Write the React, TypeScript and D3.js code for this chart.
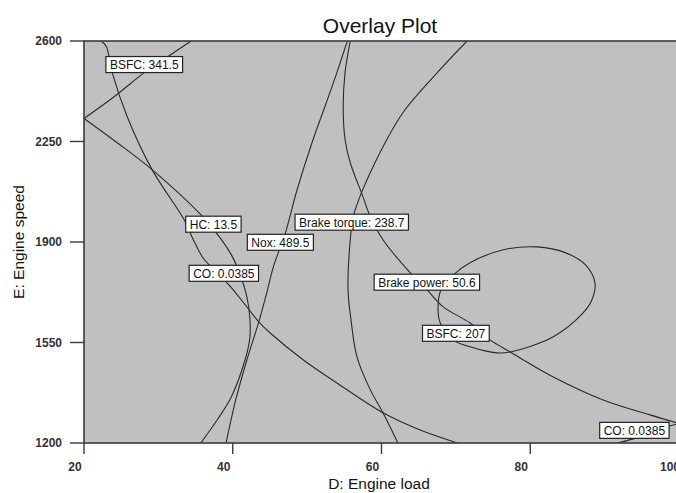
import { useEffect, useRef } from "react";
import * as d3 from "d3";

// axis ticks
const loadTicks = [20, 40, 60, 80, 100];
const speedTicks = [1200, 1550, 1900, 2250, 2600];

// contour traces, [engine load, engine speed]
const bsfcHigh = [
  [34.4, 2600], [31.7, 2553], [28.1, 2490], [24.4, 2413], [20, 2330],
];
const hcLine = [
  [20, 2330], [24.6, 2243], [29.15, 2152], [35.7, 1995], [38.0, 1925],
  [39.8, 1856], [41.1, 1779], [41.9, 1709], [42.3, 1636], [42.3, 1566],
  [41.65, 1489], [39.8, 1360], [37.9, 1280], [35.7, 1200],
];
const coLine = [
  [22.3, 2600], [23.0, 2581], [23.8, 2490], [25.8, 2337], [29.15, 2152],
  [33.45, 1978], [34.7, 1908], [36.0, 1845], [37.75, 1796], [39.6, 1747],
  [42.2, 1664], [43.5, 1622], [45.0, 1584], [49.5, 1489], [54.0, 1409],
  [60.2, 1305], [65.2, 1245], [70.2, 1200],
];
const coCorner = [
  [91.7, 1200], [94.2, 1217], [98.7, 1259], [100, 1268],
];
const noxLine = [
  [55.4, 2600], [54.0, 2490], [52.4, 2372], [50.8, 2257], [48.65, 2082],
  [47.0, 1925], [45.55, 1821], [44.5, 1716], [43.5, 1622], [41.9, 1489],
  [40.4, 1350], [39.1, 1200],
];
const torqueLine = [
  [71.5, 2600], [67.5, 2490], [62.9, 2351], [60.2, 2232], [58.5, 2142],
  [57.1, 2058], [56.2, 1988], [55.8, 1908], [55.5, 1734], [55.9, 1629],
  [56.7, 1500], [58.5, 1385], [60.2, 1305], [62.2, 1200],
];
const bsfcLow = [
  [55.8, 2600], [55.1, 2490], [54.85, 2372], [55.1, 2257], [55.8, 2176],
  [57.4, 2065], [58.5, 1988], [60.2, 1908], [63.85, 1793], [66.1, 1734],
  [68.3, 1674], [71.9, 1618], [74.6, 1559], [77.3, 1517], [83.1, 1430],
  [89.8, 1350], [96.1, 1298], [100, 1268],
];
const powerLoop = [
  [67.6, 1664], [68.0, 1734], [69.5, 1782], [71.9, 1828], [76.4, 1873],
  [80.9, 1883], [84.7, 1863], [87.4, 1821], [88.7, 1758], [88.3, 1699],
  [87.1, 1653], [83.1, 1570], [77.3, 1517], [75.5, 1514], [71.9, 1535],
  [69.6, 1559], [67.9, 1618],
];

const openLines = [bsfcHigh, hcLine, coLine, coCorner, noxLine, torqueLine, bsfcLow];

const labels = [
  { text: "BSFC: 341.5", load: 28.1, speed: 2518 },
  { text: "HC: 13.5", load: 37.4, speed: 1962 },
  { text: "Nox: 489.5", load: 46.4, speed: 1899 },
  { text: "Brake torque: 238.7", load: 56.0, speed: 1969 },
  { text: "CO: 0.0385", load: 38.8, speed: 1791 },
  { text: "Brake power: 50.6", load: 66.1, speed: 1760 },
  { text: "BSFC: 207", load: 70.0, speed: 1582 },
  { text: "CO: 0.0385", load: 94.0, speed: 1244 },
];

const W = 676;
const H = 493;
const font = "'Liberation Sans', Arial, sans-serif";

const OverlayPlot = () => {
  const svgRef = useRef<SVGSVGElement | null>(null);

  useEffect(() => {
    const svg = d3.select(svgRef.current);
    svg.selectAll("*").remove();

    const x = d3.scaleLinear().domain([20, 100]).range([84, 679]);
    const y = d3.scaleLinear().domain([1200, 2600]).range([443, 41]);

    svg
      .append("defs")
      .append("clipPath")
      .attr("id", "plot-clip")
      .append("rect")
      .attr("x", x(20))
      .attr("y", y(2600))
      .attr("width", x(100) - x(20))
      .attr("height", y(1200) - y(2600));

    // background
    svg
      .append("rect")
      .attr("x", x(20))
      .attr("y", y(2600))
      .attr("width", x(100) - x(20))
      .attr("height", y(1200) - y(2600))
      .attr("fill", "#c0c0c0");

    const line = d3
      .line<number[]>()
      .x((d) => x(d[0]))
      .y((d) => y(d[1]))
      .curve(d3.curveCatmullRom);

    const closed = d3
      .line<number[]>()
      .x((d) => x(d[0]))
      .y((d) => y(d[1]))
      .curve(d3.curveCatmullRomClosed);

    const g = svg.append("g").attr("clip-path", "url(#plot-clip)");
    g.selectAll("path.open")
      .data(openLines)
      .join("path")
      .attr("class", "open")
      .attr("d", (d) => line(d))
      .attr("fill", "none")
      .attr("stroke", "#2a2a2a")
      .attr("stroke-width", 1.1);
    g.append("path")
      .attr("d", closed(powerLoop))
      .attr("fill", "none")
      .attr("stroke", "#2a2a2a")
      .attr("stroke-width", 1.1);

    // labels with white boxes
    const lab = g
      .selectAll("g.lab")
      .data(labels)
      .join("g")
      .attr("class", "lab")
      .attr("transform", (d) => `translate(${x(d.load)},${y(d.speed)})`);
    lab.each(function (d) {
      const node = d3.select(this);
      const rect = node.append("rect");
      const t = node
        .append("text")
        .attr("text-anchor", "middle")
        .attr("dy", "0.36em")
        .attr("font-family", font)
        .attr("font-size", 12)
        .attr("fill", "#111")
        .text(d.text);
      const w = (t.node() as SVGTextElement).getComputedTextLength();
      rect
        .attr("x", -w / 2 - 4)
        .attr("y", -8)
        .attr("width", w + 8)
        .attr("height", 16)
        .attr("fill", "#fff")
        .attr("stroke", "#222")
        .attr("stroke-width", 1.2);
    });

    // frame
    svg
      .append("rect")
      .attr("x", x(20))
      .attr("y", y(2600))
      .attr("width", x(100) - x(20))
      .attr("height", y(1200) - y(2600))
      .attr("fill", "none")
      .attr("stroke", "#3a3a3a")
      .attr("stroke-width", 1.6);

    // y ticks
    const yt = svg.append("g");
    yt.selectAll("line")
      .data(speedTicks)
      .join("line")
      .attr("x1", x(20) - 14)
      .attr("x2", x(20))
      .attr("y1", (d) => y(d))
      .attr("y2", (d) => y(d))
      .attr("stroke", "#3a3a3a")
      .attr("stroke-width", 1.4);
    yt.selectAll("text")
      .data(speedTicks)
      .join("text")
      .attr("x", x(20) - 22)
      .attr("y", (d) => y(d))
      .attr("dy", "0.35em")
      .attr("text-anchor", "end")
      .attr("font-family", font)
      .attr("font-size", 12)
      .attr("font-weight", "bold")
      .attr("fill", "#333")
      .text((d) => d);

    // x ticks
    const xt = svg.append("g");
    xt.selectAll("line")
      .data(loadTicks)
      .join("line")
      .attr("x1", (d) => x(d))
      .attr("x2", (d) => x(d))
      .attr("y1", y(1200))
      .attr("y2", y(1200) + 11)
      .attr("stroke", "#3a3a3a")
      .attr("stroke-width", 1.4);
    xt.selectAll("text")
      .data(loadTicks)
      .join("text")
      .attr("x", (d) => x(d) - 9)
      .attr("y", y(1200) + 28)
      .attr("text-anchor", "middle")
      .attr("font-family", font)
      .attr("font-size", 12)
      .attr("font-weight", "bold")
      .attr("fill", "#333")
      .text((d) => d);

    svg
      .append("text")
      .attr("x", 380)
      .attr("y", 33)
      .attr("text-anchor", "middle")
      .attr("font-family", font)
      .attr("font-size", 21)
      .attr("fill", "#111")
      .text("Overlay Plot");

    svg
      .append("text")
      .attr("x", 379)
      .attr("y", 489)
      .attr("text-anchor", "middle")
      .attr("font-family", font)
      .attr("font-size", 15.5)
      .attr("fill", "#111")
      .text("D: Engine load");

    svg
      .append("text")
      .attr("transform", `translate(24,${(y(1200) + y(2600)) / 2}) rotate(-90)`)
      .attr("text-anchor", "middle")
      .attr("font-family", font)
      .attr("font-size", 15.5)
      .attr("fill", "#111")
      .text("E: Engine speed");
  }, []);

  return (
    <svg
      ref={svgRef}
      width={W}
      height={H}
      style={{ position: "absolute", left: 0, top: 0, background: "#fff" }}
    />
  );
};

export default function App() {
  return <OverlayPlot />;
}
